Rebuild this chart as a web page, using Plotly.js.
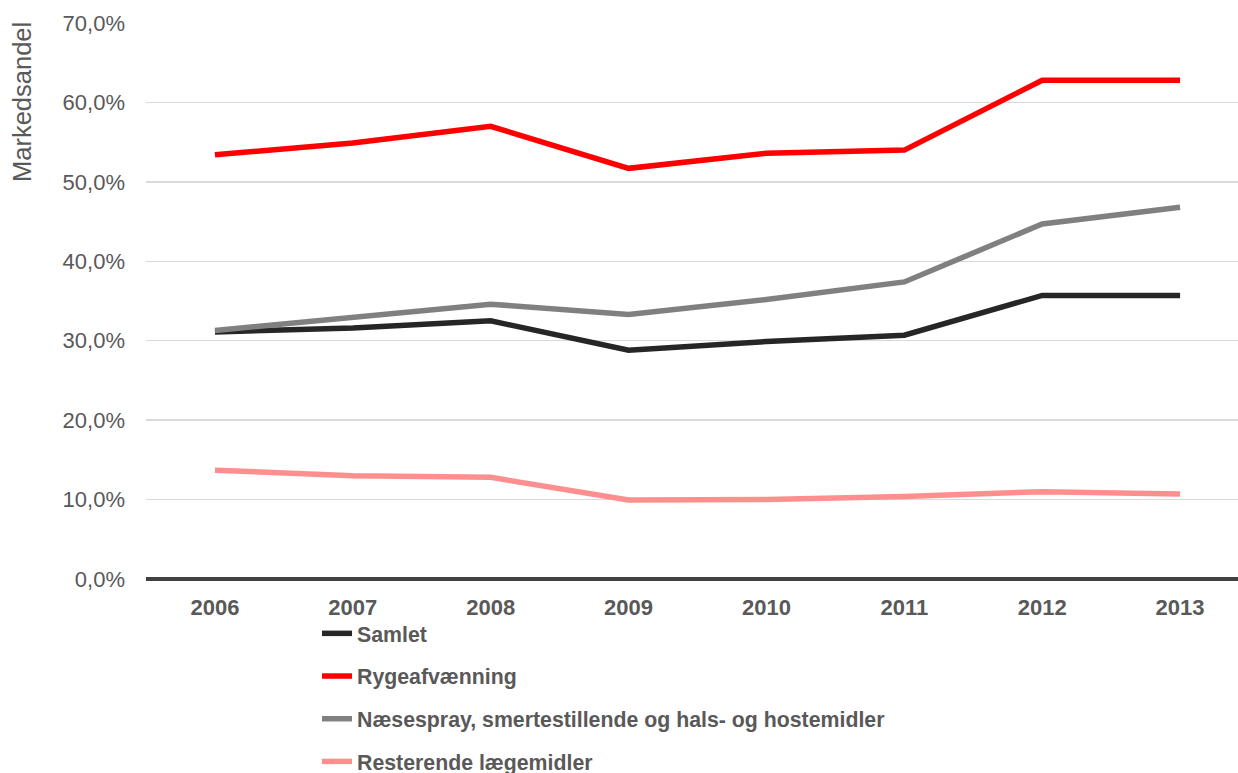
<!DOCTYPE html>
<html>
<head>
<meta charset="utf-8">
<script src="https://cdn.plot.ly/plotly-3.0.1.min.js"></script>
<style>html,body{margin:0;padding:0;background:#fff;}#chart{width:1238px;height:773px;}</style>
</head>
<body>
<div id="chart"></div>
<script>
var years = ["2006","2007","2008","2009","2010","2011","2012","2013"];
var seriesNames = ["Samlet","Rygeafvænning","Næsespray, smertestillende og hals- og hostemidler","Resterende lægemidler"];
var samlet = [31.1, 31.6, 32.5, 28.8, 29.9, 30.7, 35.7, 35.7];
var rygeafvaenning = [53.4, 54.9, 57.0, 51.7, 53.6, 54.0, 62.8, 62.8];
var naesespray = [31.3, 33.0, 34.6, 33.3, 35.2, 37.4, 44.7, 46.8];
var resterende = [13.7, 13.0, 12.8, 9.95, 10.0, 10.4, 11.0, 10.7];
var yTickVals = [0, 10, 20, 30, 40, 50, 60, 70];
var yTickText = ["0,0%","10,0%","20,0%","30,0%","40,0%","50,0%","60,0%","70,0%"];
var colors = ["#262626", "#ff0000", "#808080", "#ff8f8f"];
var allValues = [samlet, rygeafvaenning, naesespray, resterende];

var traces = allValues.map(function(v, i) {
  return {
    x: years, y: v, name: seriesNames[i], type: "scatter", mode: "lines",
    legendgroup: "g" + i,
    line: {color: colors[i], width: 5.5, shape: "linear"},
    hoverinfo: "skip"
  };
});

var plotL = 146, plotW = 1092, plotT = 23, plotH = 556;

var layout = {
  width: 1238, height: 773,
  margin: {l: plotL, r: 1238 - plotL - plotW, t: plotT, b: 773 - plotT - plotH, autoexpand: false},
  paper_bgcolor: "#ffffff", plot_bgcolor: "#ffffff",
  font: {family: "Liberation Sans, Arial, sans-serif", color: "#595959"},
  showlegend: true,
  legend: {
    orientation: "v",
    x: (317 - plotL) / plotW, y: (plotT + plotH - 613) / plotH,
    xanchor: "left", yanchor: "top",
    font: {size: 21.3, color: "#595959", family: "Liberation Sans, Arial, sans-serif", weight: "bold"},
    tracegroupgap: 12,
    bgcolor: "rgba(0,0,0,0)"
  },
  xaxis: {
    type: "category",
    range: [-0.5, 7.42],
    showgrid: false,
    zeroline: false,
    showline: false,
    ticks: "",
    tickfont: {size: 22, color: "#595959", family: "Liberation Sans, Arial, sans-serif", weight: "bold"},
    ticklabelstandoff: 13
  },
  yaxis: {
    range: [0, 70],
    tickvals: yTickVals,
    ticktext: yTickText,
    showgrid: true,
    gridcolor: "#d9d9d9",
    gridwidth: 1.5,
    zeroline: true,
    zerolinecolor: "#404040",
    zerolinewidth: 3.5,
    showline: false,
    ticks: "",
    tickfont: {size: 22, color: "#595959"},
    ticklabelstandoff: 20
  },
  annotations: [{
    text: "Markedsandel",
    xref: "paper", yref: "paper",
    x: (22 - plotL) / plotW, xanchor: "center",
    y: (plotT + plotH - 102) / plotH, yanchor: "middle",
    showarrow: false, textangle: -90,
    font: {size: 25.5, color: "#595959"}
  }]
};

Plotly.newPlot("chart", traces, layout, {staticPlot: true, displayModeBar: false});
</script>
</body>
</html>
